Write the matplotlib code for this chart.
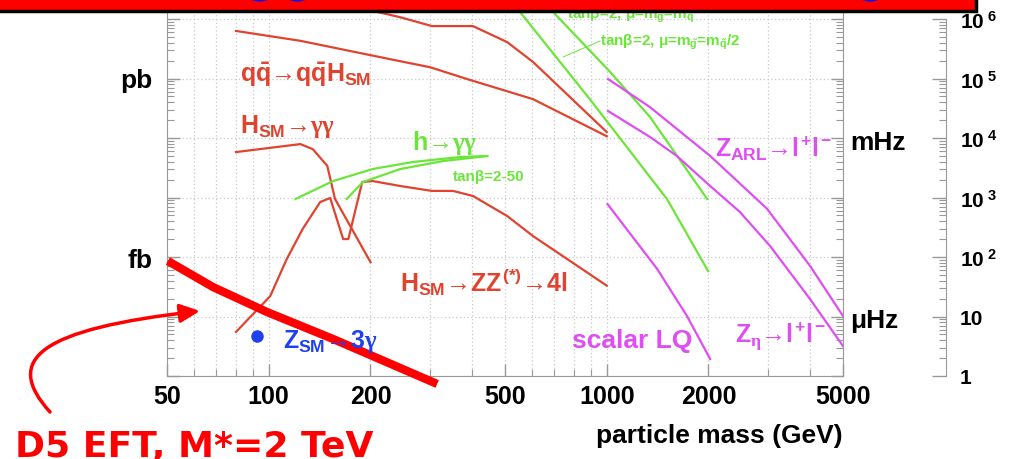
import numpy as np
import matplotlib.pyplot as plt
from matplotlib.patches import Rectangle, FancyArrowPatch
from matplotlib.path import Path
from matplotlib.ticker import FixedLocator, NullFormatter, FuncFormatter, LogLocator

# ---- data: mass (GeV) vs. number of events (right-hand scale) ----
top_red_m = [180, 209, 245, 304, 402, 507, 605, 1000]
top_red_n = [1.6e6, 1.32e6, 1.07e6, 7.6e5, 7.6e5, 4.1e5, 1.9e5, 1.26e4]
qqh_m = [80, 124, 174, 245, 300, 386, 605, 1000]
qqh_n = [6.3e5, 4.3e5, 2.9e5, 1.95e5, 1.55e5, 9.8e4, 4.5e4, 1.07e4]
hgg_m = [80, 124, 135, 149, 157, 200]
hgg_n = [5800, 7900, 6500, 3400, 950, 82]
hzz_m = [80, 101, 113, 126, 142, 152, 166, 172, 189, 203, 245, 304, 351, 402, 507, 605, 1000]
hzz_n = [5.5, 22, 92, 296, 840, 980, 200, 200, 1820, 1890, 1560, 1290, 1290, 1060, 490, 225, 33]

susy_hgg_a_m = [120, 155, 203, 267, 368, 443]
susy_hgg_a_n = [944, 1890, 3010, 3950, 4790, 4980]
susy_hgg_b_m = [170, 190, 245, 328, 443]
susy_hgg_b_n = [944, 1820, 3010, 4100, 4980]
squark_a_m = [520, 554, 891, 1507, 1995]
squark_a_n = [2.0e6, 1.31e6, 4.5e4, 944, 58]
squark_b_m = [650, 694, 1023, 1343, 1982]
squark_b_n = [1.95e6, 1.31e6, 1.29e5, 2.25e4, 944]

zarl_m = [1009, 1343, 2023, 2981, 3993, 5000]
zarl_n = [9.8e4, 3.3e4, 5000, 646, 71, 10.2]
zeta_m = [1009, 1343, 1613, 2023, 2478, 3043, 3993, 5000]
zeta_n = [2.84e4, 1.04e4, 4980, 1560, 570, 153, 19.7, 3.19]
lq_m = [1005, 1410, 1727, 2023]
lq_n = [776, 63, 10.2, 1.93]

zsm_m = [92]
zsm_n = [4.7]

d5_m = [50.3, 68.4, 98.8, 155, 315]
d5_n = [85.7, 31.3, 11.9, 4.19, 0.735]

x_ticks = [50, 100, 200, 500, 1000, 2000, 5000]
x_minor = [60, 70, 80, 90, 300, 400, 600, 700, 800, 900, 3000, 4000]

RED = '#e0432f'
GREEN = '#6ce53a'
MAGENTA = '#df4ef2'
BLUE = '#2040f0'
GRAY = '#999999'

plt.rcParams['font.family'] = 'Liberation Sans'
plt.rcParams['font.weight'] = 'bold'
plt.rcParams['mathtext.fontset'] = 'custom'
plt.rcParams['mathtext.rm'] = 'Liberation Sans:bold'
plt.rcParams['mathtext.it'] = 'Liberation Sans:bold'
plt.rcParams['mathtext.bf'] = 'Liberation Sans:bold'
plt.rcParams['mathtext.sf'] = 'Liberation Serif'
plt.rcParams['mathtext.fallback'] = 'stixsans'

W, H = 1011, 460


def px(x, y):
    return x / W, 1 - y / H


fig = plt.figure(figsize=(W / 100, H / 100), dpi=100)
ytop = 10 ** ((377 - 10) / 59.5)
ax = fig.add_axes([167 / W, 1 - 377 / H, (843 - 167) / W, (377 - 10) / H])
ax.set_xscale('log')
ax.set_yscale('log')
ax.set_xlim(50, 5000)
ax.set_ylim(1, ytop)
ax.set_axisbelow(True)

ax.set_xticks(x_ticks)
ax.set_xticklabels([str(v) for v in x_ticks])
ax.set_xticks(x_minor, minor=True)
ax.xaxis.set_minor_formatter(NullFormatter())
ax.yaxis.set_major_locator(LogLocator(base=10, numticks=20))
ax.yaxis.set_minor_locator(LogLocator(base=10, subs=range(2, 10), numticks=20))
ax.yaxis.set_major_formatter(NullFormatter())
ax.yaxis.set_minor_formatter(NullFormatter())
ax.tick_params(which='both', direction='in', left=True, right=True, top=False,
               colors=GRAY, labelcolor='black', labelleft=False)
ax.tick_params(which='major', length=9, width=1)
ax.tick_params(which='minor', length=5, width=0.8)
ax.tick_params(axis='x', labelsize=18, pad=6)
for s in ax.spines.values():
    s.set_color(GRAY)
ax.spines['top'].set_visible(False)
grid_kw = dict(color='#c8c8c8', ls=(0, (1, 2)), lw=0.9)
ax.grid(True, which='major', **grid_kw)
ax.grid(True, which='minor', axis='x', **grid_kw)

# curves
ax.plot(top_red_m, top_red_n, color=RED, lw=1.6)
ax.plot(qqh_m, qqh_n, color=RED, lw=1.6)
ax.plot(hgg_m, hgg_n, color=RED, lw=1.6)
ax.plot(hzz_m, hzz_n, color=RED, lw=1.6)
ax.plot(susy_hgg_a_m, susy_hgg_a_n, color=GREEN, lw=1.6)
ax.plot(susy_hgg_b_m, susy_hgg_b_n, color=GREEN, lw=1.6)
ax.plot(squark_a_m, squark_a_n, color=GREEN, lw=1.6)
ax.plot(squark_b_m, squark_b_n, color=GREEN, lw=1.6)
ax.plot([743, 955], [2.3e5, 4.27e5], color=GREEN, lw=0.7)
ax.plot(zarl_m, zarl_n, color=MAGENTA, lw=1.6)
ax.plot(zeta_m, zeta_n, color=MAGENTA, lw=1.6)
ax.plot(lq_m, lq_n, color=MAGENTA, lw=1.6)
ax.plot(zsm_m, zsm_n, 'o', color=BLUE, ms=8)
ax.plot(d5_m, d5_n, color='#ff0000', lw=6, clip_on=False, zorder=5,
        solid_capstyle='butt')

# right-hand event scale
ax2 = fig.add_axes([0.5, 1 - 377 / H, 946 / W - 0.5, (377 - 10) / H])
ax2.set_yscale('log')
ax2.set_ylim(1, ytop)
ax2.patch.set_visible(False)
for s in ['left', 'top', 'bottom']:
    ax2.spines[s].set_visible(False)
ax2.spines['right'].set_color(GRAY)
ax2.spines['right'].set_bounds(1, 1e6)
ax2.xaxis.set_visible(False)
ax2.yaxis.tick_right()
ax2.yaxis.set_major_locator(FixedLocator([10 ** k for k in range(7)]))
ax2.yaxis.set_minor_locator(FixedLocator([m * 10 ** k for k in range(6) for m in range(2, 10)]))
ax2.yaxis.set_minor_formatter(NullFormatter())


def exp_label(v, pos):
    e = int(round(np.log10(v)))
    if e == 0:
        return '1'
    if e == 1:
        return '10'
    return r'$10^{\ %d}$' % e


ax2.yaxis.set_major_formatter(FuncFormatter(exp_label))
ax2.tick_params(which='both', direction='in', colors=GRAY, labelcolor='black')
ax2.tick_params(which='major', length=10, width=1, labelsize=15, pad=10)
ax2.tick_params(which='minor', length=5, width=0.8)

# labels
fs = 18
gg = r'$\mathsf{γγ}$'
fig.text(*px(240, 82), r'$q\bar{q}$→$q\bar{q}H_{SM}$', color=RED, fontsize=fs, va='baseline')
fig.text(*px(240, 133), r'$H_{SM}$→' + gg, color=RED, fontsize=fs, va='baseline')
fig.text(*px(400, 292), r'$H_{SM}$→$ZZ^{(*)}$→4l', color=RED, fontsize=fs, va='baseline')
fig.text(*px(412, 150), 'h→' + gg, color=GREEN, fontsize=fs, va='baseline')
fig.text(*px(453, 181), 'tanβ=2-50', color=GREEN, fontsize=11, va='baseline')
fig.text(*px(600, 46), r'tanβ=2, μ=$m_{\tilde{g}}$=$m_{\tilde{q}}$/2', color=GREEN,
         fontsize=11, va='baseline')
fig.text(*px(567, 19), r'tanβ=2, μ=$m_{\tilde{g}}$=$m_{\tilde{q}}$', color=GREEN,
         fontsize=11, va='baseline')
fig.text(*px(283, 348), r'$Z_{SM}$→3$\mathsf{γ}$', color=BLUE, fontsize=fs, va='baseline')
fig.text(*px(572, 348), 'scalar LQ', color=MAGENTA, fontsize=fs + 1, va='baseline')
fig.text(*px(735, 343), r'$Z_{\mathsf{η}}$→$l^{+}l^{-}$', color=MAGENTA, fontsize=fs, va='baseline')
fig.text(*px(715, 157), r'$Z_{ARL}$→$l^{+}l^{-}$', color=MAGENTA, fontsize=fs, va='baseline')
fig.text(*px(152, 88), 'pb', fontsize=19, ha='right', va='baseline')
fig.text(*px(152, 268), 'fb', fontsize=19, ha='right', va='baseline')
fig.text(*px(850, 150), 'mHz', fontsize=19, va='baseline')
fig.text(*px(850, 328), 'μHz', fontsize=19, va='baseline')
fig.text(*px(843, 443), 'particle mass (GeV)', fontsize=19, ha='right', va='baseline')

# banner at the top
banner = Rectangle(px(-10, 12), (976 + 10) / W, 0.1, transform=fig.transFigure,
                   facecolor='#ff0000', edgecolor='black', lw=2.5, zorder=10)
fig.add_artist(banner)
fig.text(*px(279, 1), 'oo', color='#1010ee', fontsize=46, ha='center', va='baseline', zorder=11)
fig.text(*px(870, 1), 'o', color='#1010ee', fontsize=46, ha='center', va='baseline', zorder=11)

# hand-drawn annotation
verts = [px(50, 413), px(2, 360), px(40, 330), px(200, 312)]
codes = [Path.MOVETO, Path.CURVE4, Path.CURVE4, Path.CURVE4]
arrow = FancyArrowPatch(path=Path(verts, codes), transform=fig.transFigure,
                        arrowstyle='-|>,head_length=0.6,head_width=0.28',
                        mutation_scale=20, color='#ff0000', lw=2.5, zorder=10)
fig.add_artist(arrow)
fig.text(*px(15, 457), 'D5 EFT, M*=2 TeV', color='#ff0000', fontsize=26,
         family='DejaVu Sans', weight='bold', va='baseline')

fig.savefig('out.png', dpi=100)
